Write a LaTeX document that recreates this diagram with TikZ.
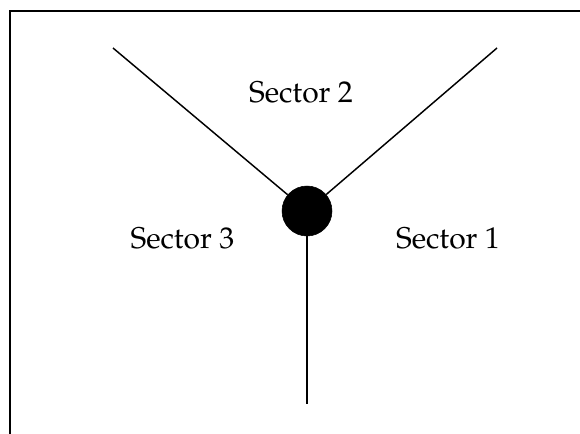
\documentclass[tikz,border=0pt]{standalone}
\usepackage[T1]{fontenc}
\usepackage{mathpazo}
\usepackage{tikz}
\usetikzlibrary{positioning}

\begin{document}
\begin{tikzpicture}[
 x=0.75pt,y=-0.75pt,
 sec/.style={anchor=base,inner sep=0pt,font=\fontsize{22.5}{27}\selectfont},
 hub/.style={circle,fill=black,draw=black,minimum size=37.5pt,inner sep=0pt},
 spoke/.style={draw=black,line width=1.1pt},
 frame/.style={draw=black,line width=1.6pt}
]
 \useasboundingbox (0,0) rectangle (580,433);
 \draw[frame] (10,440)--(10,11)--(590,11);
 \node[hub] (hub) at (307,211) {};
 \coordinate (upleft) at (113,48);
 \coordinate (upright) at (497,48);
 \coordinate (down) at (307,404);
 \foreach \e in {upleft,upright,down}
   \draw[spoke] (hub)--(\e);
 \node[sec] (sec2) at (301,102) {Sector 2};
 \node[sec] (sec3) at (182.5,248) {Sector 3};
 \node[sec] (sec1) at (448,248) {Sector 1};
\end{tikzpicture}
\end{document}
